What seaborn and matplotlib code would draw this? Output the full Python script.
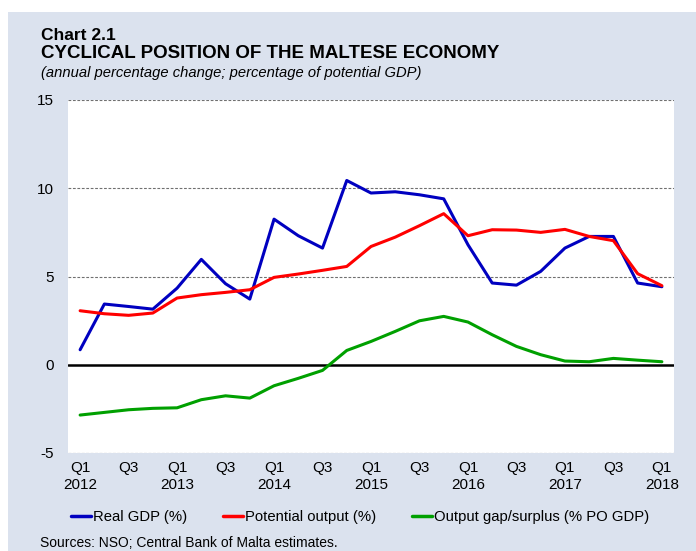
import pandas as pd
import matplotlib.pyplot as plt
import seaborn as sns
from matplotlib.patches import Rectangle

# quarters Q1 2012 .. Q1 2018
quarters = [f"Q{q} {y}" for y in range(2012, 2019) for q in range(1, 5)][:25]

real_gdp = [0.85, 3.44, 3.30, 3.15, 4.34, 5.97, 4.59, 3.72, 8.25, 7.31, 6.61, 10.44,
            9.73, 9.80, 9.63, 9.40, 6.80, 4.63, 4.51, 5.29, 6.61, 7.27, 7.27, 4.63, 4.42]
potential = [3.06, 2.89, 2.80, 2.93, 3.78, 3.97, 4.10, 4.25, 4.95, 5.14, 5.35, 5.57,
             6.70, 7.23, 7.88, 8.56, 7.31, 7.65, 7.63, 7.50, 7.67, 7.27, 7.03, 5.16, 4.48]
output_gap = [-2.85, -2.70, -2.55, -2.47, -2.44, -1.98, -1.76, -1.89, -1.19, -0.77, -0.32, 0.81,
              1.32, 1.89, 2.49, 2.74, 2.42, 1.70, 1.04, 0.57, 0.21, 0.17, 0.36, 0.26, 0.17]

series_names = ["Real GDP (%)", "Potential output (%)", "Output gap/surplus (% PO GDP)"]
colors = ["#0000c0", "#ff0000", "#00a000"]

tick_labels = []
for i, q in enumerate(quarters):
    qq, yy = q.split()
    if i % 2 == 0:
        tick_labels.append(f"{qq}\n{yy}" if qq == "Q1" else qq)

df = pd.DataFrame({
    "idx": list(range(len(quarters))) * 3,
    "value": real_gdp + potential + output_gap,
    "series": [s for s in series_names for _ in quarters],
})

sns.set_style("white")
plt.rcParams["font.family"] = ["Liberation Sans", "DejaVu Sans"]
plt.rcParams["axes.unicode_minus"] = False
plt.rcParams["text.color"] = "black"
plt.rcParams["xtick.color"] = "black"
plt.rcParams["ytick.color"] = "black"

fig = plt.figure(figsize=(6.96, 5.51), dpi=100)
fig.patches.append(Rectangle((8 / 696, 0), 1, 1 - 12 / 551, transform=fig.transFigure,
                             facecolor="#dbe2ee", edgecolor="none", zorder=-10))
ax = fig.add_axes([68 / 696, 1 - 453 / 551, (674 - 68) / 696, (453 - 100) / 551])
ax.set_facecolor("white")

for y in [-5, 5, 10, 15]:
    ax.axhline(y, color="#707070", lw=0.8, ls=(0, (2.5, 1.5)), zorder=1)
ax.axhline(0, color="black", lw=1.8, zorder=2)

sns.lineplot(data=df, x="idx", y="value", hue="series", palette=colors,
             linewidth=2.2, ax=ax, legend=False, zorder=3)

ax.set_xlim(-0.5, len(quarters) - 0.5)
ax.set_ylim(-5, 15)
ax.set_yticks([-5, 0, 5, 10, 15])
ax.set_xticks(range(0, len(quarters), 2))
ax.set_xticklabels(tick_labels, fontsize=11)
ax.tick_params(axis="y", labelsize=11, length=0, pad=10)
ax.tick_params(axis="x", length=0, pad=6)
ax.set_xlabel("")
ax.set_ylabel("")
for s in ax.spines.values():
    s.set_visible(False)

handles = [plt.Line2D([], [], color=c, lw=2.5) for c in colors]
fig.legend(handles, series_names, loc="center left", bbox_to_anchor=(71 / 696, 1 - 517 / 551),
           ncol=3, frameon=False, fontsize=10.7, handlelength=1.35, handletextpad=0.1,
           columnspacing=2.45, borderpad=0, borderaxespad=0)

fig.text(41 / 696, 1 - 35 / 551, "Chart 2.1", fontsize=12.5, fontweight="bold", va="center")
fig.text(41 / 696, 1 - 54 / 551, "CYCLICAL POSITION OF THE MALTESE ECONOMY", fontsize=13.5,
         fontweight="bold", va="center")
fig.text(41 / 696, 1 - 73 / 551, "(annual percentage change; percentage of potential GDP)",
         fontsize=10.6, style="italic", va="center")
fig.text(40 / 696, 1 - 543 / 551, "Sources: NSO; Central Bank of Malta estimates.",
         fontsize=10, va="center")

fig.savefig("out.png", dpi=100)
